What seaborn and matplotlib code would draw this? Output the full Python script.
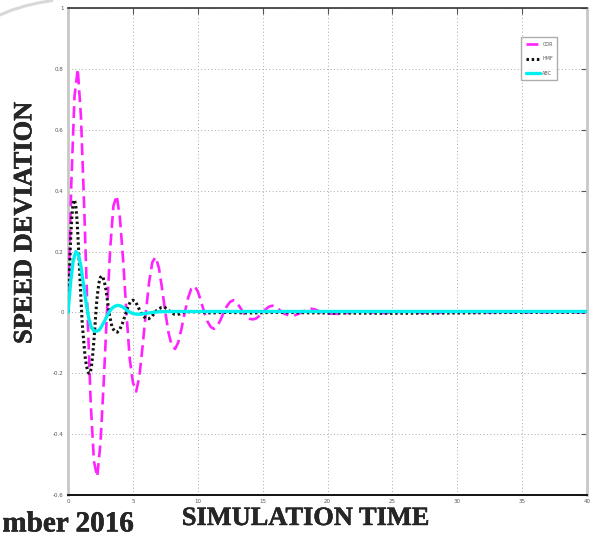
import numpy as np
import pandas as pd
import matplotlib
matplotlib.use("Agg")
import matplotlib.pyplot as plt
import matplotlib.patheffects as pe
from matplotlib.lines import Line2D
from matplotlib import font_manager
import seaborn as sns

# ---------------- data ----------------
series_names = ["COR", "HMF", "ABC"]

t_cor = [0, 0.25, 0.5, 0.75, 1.0, 1.25, 1.5, 1.75, 2.0, 2.25, 2.5, 2.75, 3.0,
         3.25, 3.5, 3.75, 4.0, 4.25, 4.5, 4.75, 5.0, 5.25, 5.5, 5.75, 6.0,
         6.25, 6.5, 6.75, 7.0, 7.25, 7.5, 7.75, 8.0, 8.25, 8.5, 8.75, 9.0,
         9.25, 9.5, 9.75, 10.0, 10.25, 10.5, 10.75, 11.0, 11.25, 11.5, 11.75,
         12.0, 12.25, 12.5, 12.75, 13.0, 13.25, 13.5, 13.75, 14.0, 14.25,
         14.5, 14.75, 15.0, 15.25, 15.5, 15.75, 16.0, 16.25, 16.5, 16.75,
         17.0, 17.25, 17.5, 17.75, 18.0, 18.25, 18.5, 18.75, 19.0, 19.25,
         19.5, 20.25, 21.0, 21.75, 22.5, 23.25, 24.0, 25.0, 26.0, 27.0, 28.0,
         29.0, 30.0, 32.0, 34.0, 36.0, 38.0, 40.0]
v_cor = [0, 0.42, 0.71, 0.80, 0.64, 0.34, 0.0, -0.30, -0.49, -0.54, -0.43,
         -0.23, 0.0, 0.21, 0.35, 0.384, 0.31, 0.17, 0.0, -0.15, -0.23, -0.26,
         -0.21, -0.11, 0.0, 0.10, 0.165, 0.182, 0.147, 0.078, 0.0, -0.068,
         -0.11, -0.12, -0.098, -0.052, 0.0, 0.047, 0.078, 0.087, 0.069, 0.037,
         0.0, -0.03, -0.048, -0.054, -0.045, -0.025, 0.0, 0.021, 0.035, 0.04,
         0.032, 0.017, 0.0, -0.013, -0.021, -0.023, -0.02, -0.011, 0.0, 0.011,
         0.019, 0.022, 0.019, 0.01, 0.0, -0.006, -0.009, -0.01, -0.009,
         -0.005, 0.0, 0.006, 0.01, 0.012, 0.01, 0.006, 0.0, -0.004, -0.005,
         0.0, 0.005, 0.001, -0.003, 0.0, 0.003, 0.0, -0.002, 0.0, 0.002, 0.0,
         0.001, 0.0, 0.001, 0.0]

t_hmf = [0, 0.1, 0.2, 0.3, 0.4, 0.5, 0.6, 0.7, 0.8, 0.9, 1.0, 1.1, 1.2, 1.3,
         1.4, 1.5, 1.6, 1.7, 1.8, 1.9, 2.0, 2.1, 2.2, 2.3, 2.4, 2.5, 2.6, 2.7,
         2.8, 2.9, 3.0, 3.1, 3.2, 3.3, 3.4, 3.6, 3.8, 4.0, 4.2, 4.4, 4.6, 4.8,
         5.0, 5.2, 5.4, 5.6, 5.8, 6.0, 6.2, 6.4, 6.6, 6.8, 7.0, 7.2, 7.4, 7.6,
         7.8, 8.0, 8.2, 8.4, 8.6, 8.8, 9.0, 10.0, 11.0, 12.0, 14.0, 16.0, 20.0,
         25.0, 30.0, 35.0, 40.0]
v_hmf = [0, 0.12, 0.24, 0.32, 0.36, 0.37, 0.35, 0.30, 0.22, 0.13, 0.04,
         -0.04, -0.09, -0.14, -0.17, -0.19, -0.20, -0.20, -0.18, -0.14, -0.09,
         -0.03, 0.03, 0.07, 0.10, 0.115, 0.12, 0.115, 0.10, 0.08, 0.05, 0.02,
         -0.01, -0.03, -0.05, -0.062, -0.065, -0.055, -0.035, -0.01, 0.015,
         0.035, 0.04, 0.035, 0.018, 0.0, -0.012, -0.02, -0.021, -0.016,
         -0.006, 0.005, 0.012, 0.016, 0.017, 0.013, 0.005, -0.002, -0.006,
         -0.007, -0.005, -0.001, 0.002, 0.002, -0.002, 0.0, -0.002, 0.0,
         -0.002, -0.003, -0.002, 0.0, 0.0]

t_abc = [0, 0.2, 0.4, 0.6, 0.8, 1.0, 1.2, 1.4, 1.6, 1.8, 2.0, 2.2, 2.4, 2.6,
         2.8, 3.0, 3.2, 3.4, 3.6, 3.8, 4.0, 4.2, 4.4, 4.6, 4.8, 5.0, 5.3, 5.6,
         6.0, 6.5, 7.0, 8.0, 10.0, 15.0, 20.0, 25.0, 30.0, 35.0, 40.0]
v_abc = [0, 0.10, 0.17, 0.20, 0.19, 0.15, 0.09, 0.03, -0.02, -0.05, -0.06,
         -0.062, -0.058, -0.045, -0.03, -0.012, 0.003, 0.014, 0.02, 0.023,
         0.022, 0.018, 0.012, 0.005, 0.0, -0.004, -0.006, -0.006, -0.003, 0.0,
         0.002, 0.003, 0.003, 0.003, 0.003, 0.003, 0.003, 0.003, 0.003]

x_ticks = [0, 5, 10, 15, 20, 25, 30, 35, 40]
y_ticks = [-0.6, -0.4, -0.2, 0, 0.2, 0.4, 0.6, 0.8, 1]
y_ticklabels = ["-0.6", "-0.4", "-0.2", "0", "0.2", "0.4", "0.6", "0.8", "1"]

# ---------------- plot ----------------
sns.set_style("white")
plt.rcParams["font.family"] = ["DejaVu Sans"]

W, H = 590, 539
fig = plt.figure(figsize=(5.9, 5.39), dpi=100)
ax = fig.add_axes([0.1153, 0.0816, 0.8797, 0.9035])

df_cor = pd.DataFrame({"t": t_cor, "v": v_cor})
df_hmf = pd.DataFrame({"t": t_hmf, "v": v_hmf})
df_abc = pd.DataFrame({"t": t_abc, "v": v_abc})

sns.lineplot(data=df_cor, x="t", y="v", ax=ax, color="#ff22ff", lw=1.9,
             linestyle=(0, (4.5, 2.2)), label=series_names[0],
             estimator=None, sort=False, zorder=3)
sns.lineplot(data=df_hmf, x="t", y="v", ax=ax, color="#111111", lw=2.2,
             linestyle=(0, (0.8, 0.9)), label=series_names[1],
             estimator=None, sort=False, zorder=4)
sns.lineplot(data=df_abc, x="t", y="v", ax=ax, color="#00f0f0", lw=2.4,
             linestyle="-", label=series_names[2],
             estimator=None, sort=False, zorder=5)

ax.set_xlim(0, 40)
ax.set_ylim(-0.6, 1)
ax.set_xticks(x_ticks)
ax.set_xticklabels([str(v) for v in x_ticks])
ax.set_yticks(y_ticks)
ax.set_yticklabels(y_ticklabels)
ax.tick_params(axis="both", which="both", direction="in", length=4,
               width=0.8, labelsize=4, colors="#555555",
               top=True, right=True, pad=3)
ax.grid(True, linestyle=(0, (1, 2.5)), color="#aaaaaa", lw=0.7)

for side in ["left", "right"]:
    ax.spines[side].set_color("#c8c8c8")
    ax.spines[side].set_linewidth(2.0)
ax.spines["top"].set_color("#333333")
ax.spines["top"].set_linewidth(1.2)
ax.spines["bottom"].set_color("#111111")
ax.spines["bottom"].set_linewidth(1.4)

ax.set_xlabel("")
ax.set_ylabel("")

leg = ax.legend(loc="upper right", bbox_to_anchor=(0.943, 0.94),
                fontsize=3.5, frameon=True, fancybox=False,
                handlelength=3.0, handletextpad=0.4, borderpad=0.9,
                labelspacing=2.0, borderaxespad=0)
leg.get_frame().set_edgecolor("#999999")
leg.get_frame().set_linewidth(1.0)
for txt in leg.get_texts():
    txt.set_color("#555555")

# faint curved scan mark in the top-left corner of the page (decoration)
mark_px = [(0, 15), (12, 10), (25, 6), (38, 3), (52, 0.5)]
fig.add_artist(Line2D([p[0] / W for p in mark_px],
                      [1 - p[1] / H for p in mark_px],
                      transform=fig.transFigure, color="#d8d8d8", lw=2.2,
                      solid_capstyle="round"))

# pick a Times-like bold face if one is installed
serif_fp = None
for f in font_manager.fontManager.ttflist:
    if f.name == "Liberation Serif" and f.weight in (700, "bold") \
            and f.style == "normal":
        serif_fp = font_manager.FontProperties(fname=f.fname)
        break
if serif_fp is None:
    serif_fp = font_manager.FontProperties(family="Liberation Serif",
                                           weight="bold")

def label(x, y, s, size, **kw):
    fp = serif_fp.copy()
    fp.set_size(size)
    fig.text(x, y, s, fontproperties=fp,
             path_effects=[pe.withStroke(linewidth=0.3, foreground="black")],
             **kw)

label(0.518, 0.026, "SIMULATION TIME", 19, ha="center", va="baseline")
label(0.042, 0.586, "SPEED DEVIATION", 19, ha="center", va="center",
      rotation=90)
label(0.004, 0.014, "mber 2016", 21, ha="left", va="baseline")

fig.savefig("out.png", dpi=100)
